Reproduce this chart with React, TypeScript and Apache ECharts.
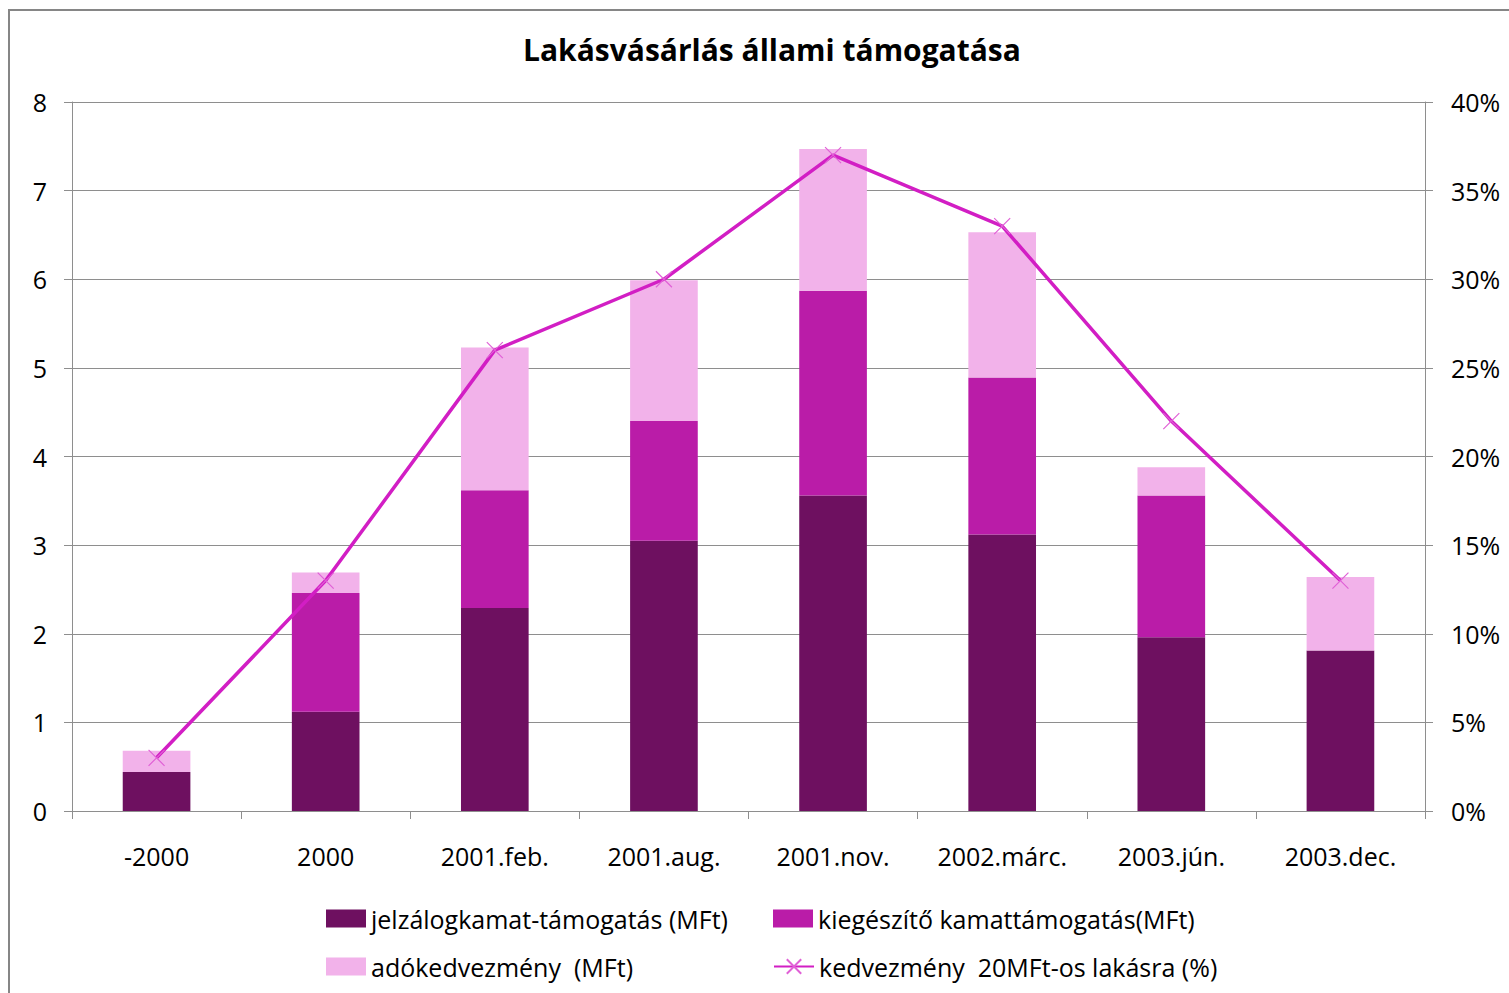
import React, { useEffect, useRef } from "react";
import * as echarts from "echarts";

const categories = ["-2000", "2000", "2001.feb.", "2001.aug.", "2001.nov.", "2002.márc.", "2003.jún.", "2003.dec."];
const jelzalog = [0.44, 1.12, 2.29, 3.05, 3.56, 3.12, 1.96, 1.81];
const kiegeszito = [0, 1.34, 1.33, 1.35, 2.31, 1.77, 1.6, 0];
const adokedvezmeny = [0.24, 0.23, 1.61, 1.59, 1.6, 1.64, 0.32, 0.83];
const kedvezmeny = [3, 13, 26, 30, 37, 33, 22, 13];

const names = [
  "jelzálogkamat-támogatás (MFt)",
  "kiegészítő kamattámogatás(MFt)",
  "adókedvezmény  (MFt)",
  "kedvezmény  20MFt-os lakásra (%)",
];

const FONT = "'Open Sans', Lato, sans-serif";
const GRID = "#8e8e8e";

export default function App() {
  const ref = useRef<HTMLDivElement>(null);
  useEffect(() => {
    if (!ref.current) return;
    const chart = echarts.init(ref.current, null, { renderer: "svg" });
    const legendBase = {
      padding: 0,
      itemWidth: 40,
      itemHeight: 18,
      itemGap: 0,
      textStyle: { fontFamily: FONT, fontSize: 25, color: "#000" },
      selectedMode: false,
    };
    chart.setOption({
      animation: false,
      backgroundColor: "#fff",
      textStyle: { fontFamily: FONT },
      title: {
        text: "Lakásvásárlás állami támogatása",
        left: 518,
        top: 29,
        textStyle: { fontFamily: FONT, fontSize: 30, fontWeight: "bold", color: "#000" },
      },
      graphic: [
        {
          type: "rect",
          shape: { x: 9, y: 10, width: 1700, height: 1200 },
          style: { fill: "none", stroke: "#868686", lineWidth: 2 },
          silent: true,
        },
      ],
      grid: { left: 72, right: 84, top: 102, bottom: 182, containLabel: false },
      legend: [
        { ...legendBase, left: 326, top: 906, data: [{ name: names[0], icon: "rect" }] },
        { ...legendBase, left: 773, top: 906, data: [{ name: names[1], icon: "rect" }] },
        { ...legendBase, left: 326, top: 954, data: [{ name: names[2], icon: "rect" }] },
        { ...legendBase, left: 773, top: 954, data: [names[3]] },
      ],
      xAxis: {
        type: "category",
        data: categories,
        boundaryGap: true,
        axisLine: { show: true, lineStyle: { color: GRID, width: 1 } },
        axisTick: { show: true, length: 8, lineStyle: { color: GRID } },
        axisLabel: { fontFamily: FONT, fontSize: 25, color: "#000", margin: 32 },
      },
      yAxis: [
        {
          type: "value",
          min: 0,
          max: 8,
          interval: 1,
          axisLine: { show: true, lineStyle: { color: GRID } },
          axisTick: { show: true, length: 8, lineStyle: { color: GRID } },
          splitLine: { show: true, lineStyle: { color: GRID, width: 1 } },
          axisLabel: { fontFamily: FONT, fontSize: 25, color: "#000", margin: 25 },
        },
        {
          type: "value",
          min: 0,
          max: 40,
          interval: 5,
          position: "right",
          axisLine: { show: true, lineStyle: { color: GRID } },
          axisTick: { show: true, length: 8, lineStyle: { color: GRID } },
          splitLine: { show: false },
          axisLabel: { fontFamily: FONT, fontSize: 25, color: "#000", margin: 26, formatter: "{value}%" },
        },
      ],
      series: [
        {
          name: names[0],
          type: "bar",
          stack: "s",
          barWidth: "40%",
          data: jelzalog,
          itemStyle: { color: "#6E1060" },
        },
        {
          name: names[1],
          type: "bar",
          stack: "s",
          barWidth: "40%",
          data: kiegeszito,
          itemStyle: { color: "#BA1CA8" },
        },
        {
          name: names[2],
          type: "bar",
          stack: "s",
          barWidth: "40%",
          data: adokedvezmeny,
          itemStyle: { color: "#F2B2EA" },
        },
        {
          name: names[3],
          type: "line",
          yAxisIndex: 1,
          data: kedvezmeny,
          lineStyle: { color: "#D21EC4", width: 3.5 },
          symbol: "path://M0,0L10,10M10,0L0,10",
          symbolSize: 16,
          itemStyle: { color: "none", borderColor: "#E060D6", borderWidth: 1.2 },
          z: 5,
        },
      ],
    });
    return () => chart.dispose();
  }, []);
  return (
    <div
      ref={ref}
      style={{ position: "absolute", left: 0, top: 0, width: 1509, height: 993 }}
    />
  );
}
